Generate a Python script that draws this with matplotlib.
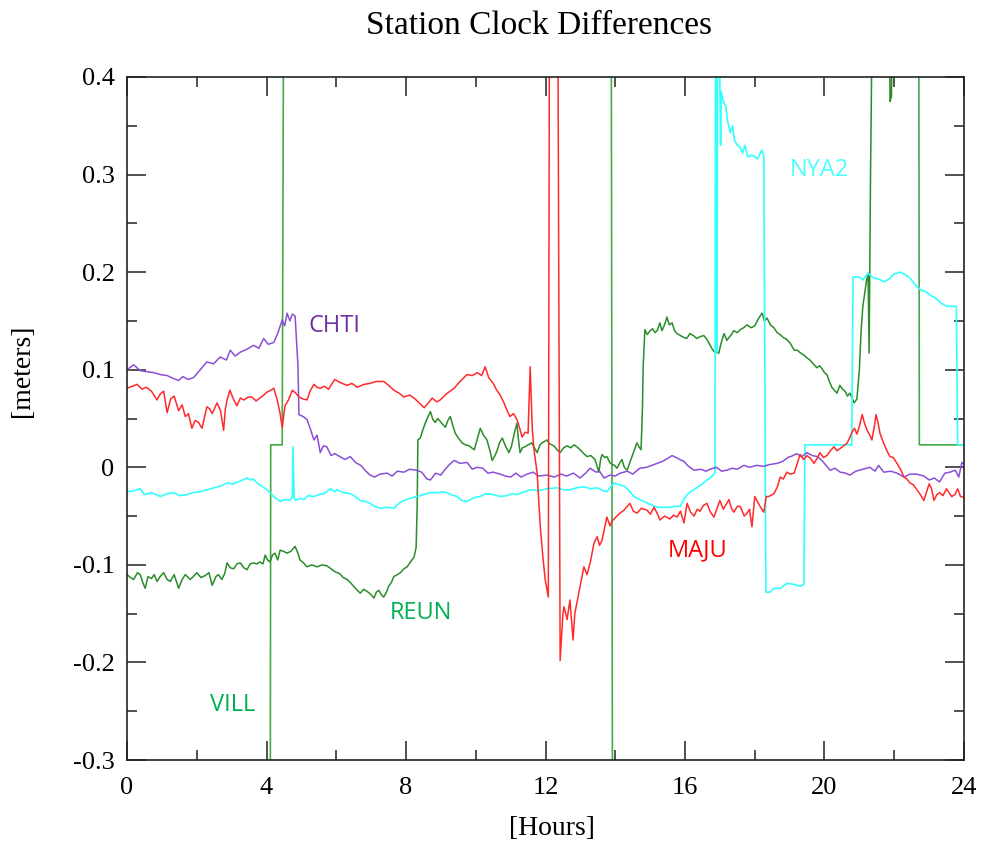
import numpy as np
import matplotlib
matplotlib.use('Agg')
import matplotlib.pyplot as plt
from matplotlib.ticker import MultipleLocator, FuncFormatter

# ---- station clock differences (hours, meters) ----
chti_h = [0.0, 0.19, 0.38, 0.57, 0.76, 0.96, 1.15, 1.33, 1.48, 1.6, 1.75, 1.91, 2.1, 2.29, 2.48, 2.67, 2.85,
          2.96, 3.1, 3.25, 3.44, 3.63, 3.78, 3.92, 4.05, 4.21, 4.33, 4.45, 4.52, 4.59, 4.67, 4.74, 4.82, 4.86,
          4.9, 4.93, 5.05, 5.16, 5.25, 5.36, 5.45, 5.54, 5.63, 5.73, 5.85, 5.96, 6.1, 6.25, 6.4, 6.55, 6.7,
          6.85, 6.97, 7.1, 7.25, 7.46, 7.6, 7.75, 7.94, 8.1, 8.3, 8.45, 8.6, 8.7, 8.85, 9.0, 9.1, 9.25, 9.38,
          9.55, 9.75, 9.9, 10.04, 10.2, 10.35, 10.5, 10.7, 10.85, 11.0, 11.15, 11.3, 11.47, 11.65, 11.8, 12.04,
          12.25, 12.45, 12.6, 12.8, 12.99, 13.15, 13.28, 13.45, 13.55, 13.68, 13.85, 14.0, 14.14, 14.35, 14.5,
          14.7, 14.9, 15.05, 15.2, 15.35, 15.5, 15.63, 15.75, 15.85, 15.97, 16.1, 16.26, 16.45, 16.6, 16.72,
          16.9, 17.05, 17.2, 17.35, 17.5, 17.69, 17.85, 18.06, 18.25, 18.45, 18.64, 18.8, 18.95, 19.1, 19.2,
          19.35, 19.5, 19.65, 19.8, 19.95, 20.16, 20.3, 20.45, 20.6, 20.73, 20.9, 21.1, 21.3, 21.45, 21.55,
          21.7, 21.9, 22.08, 22.28, 22.45, 22.65, 22.85, 23.0, 23.15, 23.3, 23.45, 23.6, 23.75, 23.85, 23.94, 24.0]
chti_v = [0.100, 0.105, 0.099, 0.098, 0.097, 0.095, 0.094, 0.091, 0.089, 0.093, 0.090, 0.092, 0.100, 0.108,
          0.106, 0.113, 0.110, 0.120, 0.114, 0.118, 0.121, 0.125, 0.122, 0.132, 0.126, 0.128, 0.138, 0.151,
          0.145, 0.158, 0.150, 0.157, 0.155, 0.130, 0.105, 0.054, 0.052, 0.049, 0.040, 0.028, 0.033, 0.015,
          0.022, 0.021, 0.012, 0.014, 0.011, 0.008, 0.011, 0.005, 0.002, -0.004, -0.008, -0.010, -0.007,
          -0.006, -0.009, -0.004, -0.005, -0.002, -0.003, -0.005, -0.012, -0.013, -0.006, -0.008, -0.003,
          0.003, 0.007, 0.004, 0.005, -0.002, 0.000, -0.001, -0.006, -0.005, -0.007, -0.009, -0.010, -0.006,
          -0.010, -0.007, -0.005, -0.009, -0.008, -0.010, -0.007, -0.009, -0.006, -0.011, -0.006, -0.001,
          -0.005, -0.004, -0.011, -0.008, -0.009, -0.006, -0.004, -0.007, -0.001, 0.000, 0.002, 0.004, 0.006,
          0.009, 0.012, 0.010, 0.008, 0.006, 0.001, -0.003, -0.002, -0.004, -0.002, 0.000, -0.004, -0.003,
          -0.001, -0.002, 0.002, 0.000, 0.002, 0.001, 0.003, 0.004, 0.006, 0.010, 0.012, 0.014, 0.011, 0.015,
          0.012, 0.011, 0.006, -0.003, -0.001, -0.005, -0.006, -0.008, -0.004, -0.002, 0.000, -0.004, 0.002,
          -0.005, -0.004, -0.006, -0.010, -0.007, -0.007, -0.009, -0.013, -0.011, -0.015, -0.006, -0.005,
          -0.003, -0.010, 0.005, 0.003]

maju_h = [0.0, 0.15, 0.29, 0.43, 0.55, 0.7, 0.86, 0.95, 1.05, 1.15, 1.25, 1.35, 1.48, 1.58, 1.67, 1.76, 1.86,
          1.95, 2.05, 2.15, 2.29, 2.37, 2.44, 2.58, 2.68, 2.77, 2.82, 2.87, 2.95, 3.05, 3.15, 3.25, 3.35, 3.47,
          3.58, 3.7, 3.81, 3.92, 4.01, 4.12, 4.21, 4.3, 4.38, 4.45, 4.53, 4.63, 4.74, 4.84, 4.93, 5.05, 5.16,
          5.26, 5.36, 5.45, 5.54, 5.66, 5.78, 5.88, 5.96, 6.1, 6.31, 6.45, 6.6, 6.8, 6.97, 7.15, 7.36, 7.5,
          7.65, 7.8, 7.94, 8.1, 8.23, 8.38, 8.52, 8.64, 8.75, 8.88, 8.98, 9.15, 9.38, 9.55, 9.75, 9.9, 10.04,
          10.17, 10.27, 10.37, 10.5, 10.6, 10.7, 10.81, 10.9, 10.98, 11.08, 11.18, 11.26, 11.33, 11.42, 11.5,
          11.56, 11.62, 11.67, 11.76, 11.85, 11.92, 11.99, 12.08, 12.12, 12.34, 12.42, 12.5, 12.53, 12.62,
          12.7, 12.79, 12.84, 12.9, 12.99, 13.1, 13.19, 13.28, 13.39, 13.48, 13.55, 13.62, 13.76, 13.85,
          13.91, 13.99, 14.1, 14.25, 14.42, 14.52, 14.62, 14.75, 14.91, 15.01, 15.11, 15.2, 15.28, 15.42,
          15.57, 15.67, 15.77, 15.87, 15.97, 16.06, 16.16, 16.26, 16.35, 16.43, 16.53, 16.63, 16.73, 16.83,
          16.92, 17.0, 17.1, 17.26, 17.33, 17.4, 17.5, 17.58, 17.7, 17.78, 17.85, 17.92, 18.0, 18.06, 18.15,
          18.26, 18.33, 18.4, 18.55, 18.65, 18.73, 18.82, 18.92, 19.02, 19.13, 19.22, 19.3, 19.4, 19.5, 19.6,
          19.7, 19.8, 19.87, 19.97, 20.07, 20.17, 20.27, 20.36, 20.44, 20.55, 20.65, 20.72, 20.79, 20.86,
          20.93, 21.0, 21.08, 21.15, 21.22, 21.3, 21.36, 21.42, 21.48, 21.54, 21.59, 21.66, 21.74, 21.8,
          21.88, 21.97, 22.08, 22.18, 22.28, 22.36, 22.45, 22.55, 22.65, 22.75, 22.85, 22.93, 23.0, 23.07,
          23.14, 23.22, 23.3, 23.4, 23.5, 23.57, 23.65, 23.74, 23.82, 23.9, 24.0]
maju_v = [0.081, 0.083, 0.085, 0.080, 0.082, 0.078, 0.069, 0.075, 0.078, 0.056, 0.070, 0.073, 0.058, 0.064,
          0.052, 0.055, 0.040, 0.048, 0.046, 0.040, 0.062, 0.060, 0.055, 0.066, 0.058, 0.038, 0.060, 0.069,
          0.079, 0.070, 0.063, 0.071, 0.069, 0.072, 0.072, 0.068, 0.071, 0.074, 0.077, 0.079, 0.081, 0.070,
          0.057, 0.041, 0.063, 0.069, 0.079, 0.076, 0.072, 0.070, 0.069, 0.079, 0.085, 0.082, 0.081, 0.083,
          0.080, 0.086, 0.090, 0.087, 0.084, 0.086, 0.082, 0.085, 0.086, 0.088, 0.088, 0.084, 0.079, 0.076,
          0.072, 0.074, 0.071, 0.066, 0.061, 0.066, 0.071, 0.067, 0.069, 0.075, 0.081, 0.088, 0.095, 0.094,
          0.097, 0.094, 0.103, 0.092, 0.086, 0.079, 0.074, 0.066, 0.058, 0.052, 0.055, 0.049, 0.040, 0.031,
          0.036, 0.035, 0.103, 0.040, 0.018, -0.006, -0.061, -0.090, -0.115, -0.133, 0.600, 0.600, -0.198,
          -0.150, -0.143, -0.156, -0.136, -0.177, -0.150, -0.139, -0.122, -0.102, -0.110, -0.098, -0.078,
          -0.071, -0.080, -0.075, -0.051, -0.060, -0.055, -0.052, -0.048, -0.044, -0.037, -0.045, -0.047,
          -0.042, -0.044, -0.048, -0.041, -0.047, -0.054, -0.050, -0.053, -0.049, -0.051, -0.045, -0.057,
          -0.037, -0.046, -0.050, -0.043, -0.045, -0.039, -0.037, -0.046, -0.051, -0.042, -0.034, -0.043,
          -0.033, -0.042, -0.046, -0.040, -0.040, -0.050, -0.047, -0.043, -0.061, -0.030, -0.034, -0.040,
          -0.046, -0.030, -0.030, -0.027, -0.020, -0.010, -0.012, -0.005, -0.007, -0.006, 0.004, 0.013, 0.008,
          0.012, 0.009, 0.004, 0.010, 0.015, 0.010, 0.012, 0.017, 0.021, 0.017, 0.019, 0.022, 0.025, 0.030,
          0.036, 0.040, 0.034, 0.042, 0.054, 0.045, 0.038, 0.033, 0.028, 0.040, 0.054, 0.045, 0.035, 0.028,
          0.021, 0.016, 0.011, 0.010, 0.004, -0.002, -0.010, -0.012, -0.016, -0.018, -0.023, -0.028, -0.034,
          -0.025, -0.017, -0.022, -0.034, -0.028, -0.026, -0.029, -0.022, -0.026, -0.030, -0.028, -0.022,
          -0.030, -0.031]

nya2_h = [0.0, 0.2, 0.38, 0.5, 0.7, 0.96, 1.15, 1.34, 1.5, 1.72, 1.9, 2.1, 2.3, 2.49, 2.7, 2.87, 3.05, 3.25,
          3.44, 3.55, 3.63, 3.72, 3.81, 4.01, 4.21, 4.39, 4.55, 4.68, 4.74, 4.76, 4.79, 4.82, 4.95, 5.07, 5.2,
          5.36, 5.5, 5.65, 5.83, 5.95, 6.02, 6.2, 6.4, 6.55, 6.69, 6.85, 6.97, 7.1, 7.26, 7.45, 7.65, 7.8,
          7.94, 8.1, 8.32, 8.5, 8.7, 8.9, 9.09, 9.3, 9.46, 9.6, 9.75, 9.95, 10.12, 10.3, 10.52, 10.7, 10.9,
          11.05, 11.18, 11.4, 11.56, 11.8, 12.04, 12.33, 12.5, 12.7, 12.9, 13.1, 13.3, 13.48, 13.65, 13.76,
          13.96, 14.1, 14.25, 14.4, 14.54, 14.7, 14.82, 15.0, 15.2, 15.4, 15.57, 15.75, 15.86, 15.95, 16.06,
          16.2, 16.34, 16.5, 16.63, 16.75, 16.86, 16.88, 16.9, 16.92, 16.94, 16.98, 17.0, 17.02, 17.04, 17.1,
          17.17, 17.22, 17.3, 17.36, 17.42, 17.5, 17.58, 17.65, 17.72, 17.8, 17.9, 17.98, 18.08, 18.2, 18.26,
          18.32, 18.44, 18.55, 18.73, 18.92, 19.13, 19.3, 19.41, 19.44, 20.78, 20.82, 21.0, 21.1, 21.25, 21.4,
          21.55, 21.7, 21.85, 22.0, 22.15, 22.3, 22.45, 22.6, 22.75, 22.9, 23.05, 23.2, 23.35, 23.5, 23.78,
          23.82, 24.0]
nya2_v = [-0.025, -0.024, -0.022, -0.028, -0.026, -0.030, -0.027, -0.026, -0.029, -0.028, -0.026, -0.025,
          -0.023, -0.021, -0.019, -0.016, -0.017, -0.014, -0.011, -0.013, -0.012, -0.016, -0.018, -0.023,
          -0.030, -0.035, -0.033, -0.034, -0.030, 0.021, -0.030, -0.034, -0.032, -0.033, -0.029, -0.030,
          -0.028, -0.027, -0.022, -0.025, -0.023, -0.026, -0.027, -0.030, -0.034, -0.035, -0.037, -0.040,
          -0.042, -0.041, -0.042, -0.037, -0.034, -0.032, -0.030, -0.028, -0.026, -0.026, -0.025, -0.028,
          -0.030, -0.034, -0.035, -0.031, -0.030, -0.027, -0.028, -0.030, -0.029, -0.027, -0.028, -0.025,
          -0.023, -0.024, -0.022, -0.021, -0.023, -0.023, -0.021, -0.020, -0.022, -0.021, -0.024, -0.025,
          -0.016, -0.018, -0.019, -0.024, -0.030, -0.033, -0.035, -0.038, -0.041, -0.041, -0.041, -0.040,
          -0.040, -0.034, -0.028, -0.024, -0.021, -0.017, -0.013, -0.010, -0.006, 0.600, 0.600, 0.118, 0.600,
          0.600, 0.397, 0.330, 0.385, 0.375, 0.370, 0.355, 0.343, 0.350, 0.335, 0.330, 0.328, 0.322, 0.330,
          0.318, 0.320, 0.319, 0.316, 0.325, 0.320, -0.128, -0.128, -0.124, -0.124, -0.119, -0.120, -0.122,
          -0.120, 0.023, 0.023, 0.195, 0.195, 0.192, 0.199, 0.194, 0.193, 0.190, 0.193, 0.198, 0.200, 0.198,
          0.194, 0.187, 0.182, 0.180, 0.176, 0.173, 0.168, 0.165, 0.165, 0.023, 0.023]

reun_h = [0.0, 0.1, 0.19, 0.3, 0.38, 0.45, 0.52, 0.6, 0.7, 0.78, 0.86, 0.95, 1.05, 1.15, 1.24, 1.35, 1.48,
          1.58, 1.67, 1.81, 1.9, 2.0, 2.12, 2.24, 2.35, 2.44, 2.55, 2.62, 2.72, 2.8, 2.87, 2.96, 3.06, 3.15,
          3.25, 3.35, 3.44, 3.53, 3.63, 3.72, 3.81, 3.9, 3.96, 4.03, 4.1, 4.17, 4.24, 4.32, 4.39, 4.48, 4.59,
          4.7, 4.82, 4.9, 4.96, 5.06, 5.16, 5.3, 5.45, 5.6, 5.73, 5.85, 5.96, 6.1, 6.2, 6.31, 6.4, 6.5, 6.6,
          6.69, 6.78, 6.88, 6.98, 7.08, 7.15, 7.22, 7.3, 7.36, 7.44, 7.5, 7.58, 7.65, 7.75, 7.84, 7.94, 8.03,
          8.13, 8.23, 8.29, 8.32, 8.34, 8.41, 8.48, 8.55, 8.62, 8.7, 8.77, 8.84, 8.91, 8.98, 9.05, 9.13, 9.2,
          9.27, 9.34, 9.41, 9.5, 9.61, 9.7, 9.81, 9.88, 9.96, 10.05, 10.13, 10.22, 10.32, 10.4, 10.47, 10.55,
          10.6, 10.68, 10.76, 10.85, 10.95, 11.02, 11.1, 11.18, 11.22, 11.27, 11.34, 11.41, 11.5, 11.61, 11.68,
          11.76, 11.84, 11.9, 12.04, 12.12, 12.24, 12.33, 12.42, 12.52, 12.62, 12.72, 12.82, 12.9, 12.99, 13.1,
          13.19, 13.3, 13.42, 13.53, 13.58, 13.62, 13.7, 13.76, 13.84, 13.91, 13.98, 14.05, 14.12, 14.19, 14.26,
          14.34, 14.41, 14.48, 14.55, 14.62, 14.68, 14.74, 14.78, 14.8, 14.85, 14.92, 15.0, 15.07, 15.14, 15.2,
          15.28, 15.34, 15.39, 15.45, 15.48, 15.55, 15.63, 15.7, 15.77, 15.87, 15.97, 16.05, 16.14, 16.24,
          16.34, 16.44, 16.54, 16.63, 16.72, 16.8, 16.86, 16.97, 17.04, 17.12, 17.2, 17.26, 17.33, 17.4, 17.5,
          17.58, 17.68, 17.78, 17.9, 18.0, 18.1, 18.21, 18.28, 18.35, 18.45, 18.55, 18.64, 18.73, 18.82, 18.92,
          19.02, 19.13, 19.22, 19.32, 19.41, 19.5, 19.58, 19.68, 19.78, 19.86, 19.93, 20.0, 20.07, 20.14, 20.21,
          20.28, 20.36, 20.44, 20.52, 20.59, 20.66, 20.73, 20.8, 20.85, 20.93, 21.0, 21.05, 21.1, 21.2, 21.25,
          21.28, 21.32, 21.38, 21.85, 21.88, 21.92, 21.96, 24.0]
reun_v = [-0.110, -0.113, -0.115, -0.108, -0.110, -0.118, -0.124, -0.112, -0.114, -0.110, -0.117, -0.112,
          -0.108, -0.115, -0.117, -0.110, -0.124, -0.115, -0.110, -0.115, -0.112, -0.108, -0.113, -0.111,
          -0.108, -0.121, -0.112, -0.110, -0.115, -0.109, -0.098, -0.103, -0.104, -0.099, -0.098, -0.103,
          -0.105, -0.099, -0.098, -0.099, -0.097, -0.099, -0.090, -0.095, -0.097, -0.090, -0.088, -0.095,
          -0.085, -0.086, -0.088, -0.086, -0.081, -0.088, -0.095, -0.098, -0.102, -0.100, -0.102, -0.100,
          -0.101, -0.104, -0.107, -0.109, -0.113, -0.115, -0.118, -0.122, -0.126, -0.129, -0.125, -0.127,
          -0.130, -0.134, -0.128, -0.126, -0.131, -0.133, -0.128, -0.122, -0.118, -0.112, -0.110, -0.108,
          -0.104, -0.102, -0.097, -0.092, -0.082, -0.040, 0.028, 0.030, 0.038, 0.045, 0.051, 0.057, 0.049,
          0.046, 0.050, 0.047, 0.044, 0.041, 0.048, 0.052, 0.043, 0.035, 0.030, 0.025, 0.023, 0.022, 0.020,
          0.018, 0.030, 0.040, 0.033, 0.028, 0.018, 0.007, 0.012, 0.016, 0.025, 0.030, 0.022, 0.015, 0.021,
          0.034, 0.045, 0.030, 0.015, 0.020, 0.021, 0.023, 0.025, 0.020, 0.015, 0.023, 0.025, 0.028, 0.024,
          0.022, 0.018, 0.015, 0.020, 0.022, 0.020, 0.023, 0.021, 0.018, 0.014, 0.011, 0.012, 0.008, -0.005,
          0.008, 0.013, 0.010, 0.011, 0.005, 0.003, 0.002, -0.001, 0.004, 0.008, 0.000, -0.003, 0.004, 0.011,
          0.018, 0.025, 0.021, 0.018, 0.060, 0.103, 0.141, 0.136, 0.140, 0.142, 0.138, 0.140, 0.148, 0.140,
          0.144, 0.150, 0.154, 0.146, 0.148, 0.140, 0.137, 0.135, 0.133, 0.132, 0.137, 0.135, 0.132, 0.134,
          0.135, 0.131, 0.125, 0.120, 0.118, 0.117, 0.128, 0.137, 0.130, 0.133, 0.136, 0.140, 0.138, 0.141,
          0.143, 0.146, 0.143, 0.145, 0.152, 0.158, 0.150, 0.153, 0.146, 0.143, 0.138, 0.136, 0.133, 0.131,
          0.127, 0.120, 0.120, 0.117, 0.115, 0.112, 0.110, 0.106, 0.102, 0.104, 0.101, 0.097, 0.095, 0.088,
          0.082, 0.079, 0.076, 0.084, 0.080, 0.078, 0.073, 0.076, 0.070, 0.066, 0.070, 0.100, 0.140, 0.165,
          0.190, 0.199, 0.117, 0.300, 0.500, 0.500, 0.375, 0.380, 0.500, 0.500]

# VILL is off scale most of the day; the gap (nan) is where it is not drawn
vill_h = [0.0, 4.10, 4.12, 4.45, 4.50, 13.88, 13.93, 13.95, 22.70, 22.72, 24.0]
vill_v = [-0.6, -0.6, 0.023, 0.023, 0.6, 0.6, -0.6, np.nan, 0.6, 0.023, 0.023]

plt.rcParams['font.family'] = ['Liberation Serif', 'DejaVu Serif']
plt.rcParams['axes.unicode_minus'] = False

fig = plt.figure(figsize=(9.94, 8.47), dpi=100)
ax = fig.add_axes([0.1278, 0.1027, 0.8420, 0.8064])

ax.plot(vill_h, vill_v, color='#44aa44', lw=1.2)
ax.plot(reun_h, reun_v, color='#2a8c2a', lw=1.1)
ax.plot(nya2_h, nya2_v, color='#33ffff', lw=1.2)
ax.plot(chti_h, chti_v, color='#8a4fd6', lw=1.1)
ax.plot(maju_h, maju_v, color='#ff2a2a', lw=1.1)

lab_font = dict(family='Open Sans', fontsize=17, va='center', ha='left')
ax.text(5.2, 0.145, 'CHTI', color='#7030a0', **lab_font)
ax.text(19.0, 0.305, 'NYA2', color='#4dffff', **lab_font)
ax.text(15.5, -0.085, 'MAJU', color='#ff0000', **lab_font)
ax.text(7.54, -0.149, 'REUN', color='#00b050', **lab_font)
ax.text(2.38, -0.244, 'VILL', color='#00b050', **lab_font)

ax.set_xlim(0, 24)
ax.set_ylim(-0.3, 0.4)
ax.xaxis.set_major_locator(MultipleLocator(4))
ax.xaxis.set_minor_locator(MultipleLocator(2))
ax.yaxis.set_major_locator(MultipleLocator(0.1))
ax.yaxis.set_minor_locator(MultipleLocator(0.05))
ax.yaxis.set_major_formatter(FuncFormatter(lambda v, p: '%g' % round(v, 2)))
ax.tick_params(which='both', direction='in', top=True, right=True, colors='#333333',
               labelcolor='black', labelsize=19, width=1.2)
ax.tick_params(which='major', length=14)
ax.tick_params(axis='y', which='major', pad=9)
ax.tick_params(axis='x', which='major', pad=12)
ax.tick_params(which='minor', length=7)
for s in ax.spines.values():
    s.set_linewidth(1.2)
    s.set_color('#222222')

ax.set_xlabel('[Hours]', fontsize=20, va='center')
ax.xaxis.set_label_coords(0.508, -0.0996)
ax.set_ylabel('[meters]', fontsize=20, va='center', ha='center')
ax.yaxis.set_label_coords(-0.1254, 0.57)
fig.text(0.542, 0.970, 'Station Clock Differences', fontsize=24, ha='center', va='center')

fig.savefig('out.png', dpi=100)
